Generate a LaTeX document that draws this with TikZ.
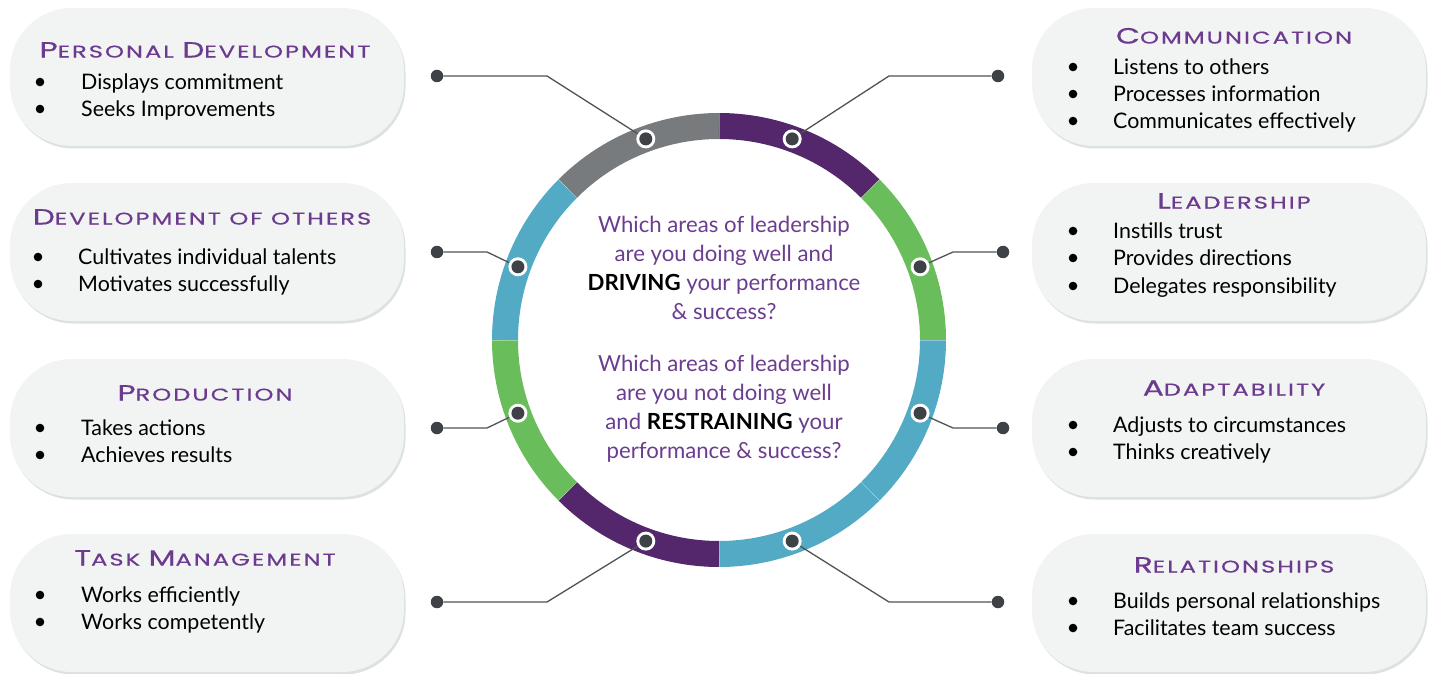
\documentclass[tikz,border=0pt]{standalone}
\usepackage{fontspec}
\usetikzlibrary{calc}
\setmainfont{Lato}
\newfontfamily\titlefont[FakeStretch=1.42, LetterSpace=12, FakeBold=0.6]{Poppins}
\definecolor{ringpurple}{HTML}{54266B}
\definecolor{ringgray}{HTML}{787B7D}
\definecolor{ringgreen}{HTML}{6ABD5B}
\definecolor{ringblue}{HTML}{53AAC4}
\definecolor{headpurple}{HTML}{6C3B8F}
\definecolor{askpurple}{HTML}{6B3D8F}
\definecolor{dotdark}{HTML}{3E4146}
\definecolor{linkgray}{HTML}{505254}
\definecolor{boxfill}{HTML}{F2F3F3}
\definecolor{boxshade}{HTML}{DCE1E3}
% small-caps style heading word: large initial, smaller remaining capitals
\newcommand{\capword}[2]{{\fontsize{22}{22}\selectfont #1}{\fontsize{17}{17}\selectfont #2}}
\newcommand{\smallword}[1]{{\fontsize{17}{17}\selectfont #1}}
\tikzset{
  pill/.style={rounded corners=62pt, minimum width=394pt, minimum height=138pt, inner sep=0pt, fill=boxfill},
  pillshade/.style={pill, fill=boxshade},
  heading/.style={font=\titlefont\fontsize{17}{17}\selectfont, text=headpurple, anchor=mid, inner sep=0pt},
  item/.style={font=\fontsize{21.4}{24}\selectfont, text=black, anchor=mid west, inner sep=0pt},
  ask/.style={font=\fontsize{22.2}{29}\selectfont, text=askpurple, align=center, inner sep=0pt},
  ringdot/.style={circle, minimum size=19pt, inner sep=0pt},
  enddot/.style={circle, fill=dotdark, minimum size=12.5pt, inner sep=0pt},
  link/.style={draw=linkgray, line width=1.3pt},
  seg/.style={line width=26pt}
}
\begin{document}
\begin{tikzpicture}[x=1pt,y=1pt]
\useasboundingbox (0,0) rectangle (1431,673);

% ---------- boxes ----------
\foreach \n/\x/\y in {bl1/207/596, bl2/207/421, bl3/207/245, bl4/207/70,
                      br1/1229/596, br2/1229/421, br3/1229/245, br4/1229/70}{
  \node[pillshade] (\n s) at (\x+1.5,\y-2.5) {};
  \node[pill] (\n) at (\x,\y) {};
}

% ---------- headings ----------
\node[heading] (h1) at (205,618) {\capword{P}{ERSONAL} \capword{D}{EVELOPMENT}};
\node[heading] (h2) at (202,451) {\capword{D}{EVELOPMENT} \smallword{OF} \smallword{OTHERS}};
\node[heading] (h3) at (205,275) {\capword{P}{RODUCTION}};
\node[heading] (h4) at (205,110) {\capword{T}{ASK} \capword{M}{ANAGEMENT}};
\node[heading] (h5) at (1234,632) {\capword{C}{OMMUNICATION}};
\node[heading] (h6) at (1234,467) {\capword{L}{EADERSHIP}};
\node[heading] (h7) at (1234,280) {\capword{A}{DAPTABILITY}};
\node[heading] (h8) at (1234,103) {\capword{R}{ELATIONSHIPS}};

% ---------- bullet items ----------
\foreach \n/\bx/\tx/\y/\t in {
  i1/40/81/591/Displays commitment,
  i2/40/81/564/Seeks Improvements,
  i3/38/78/416/Cultivates individual talents,
  i4/38/78/389/Motivates successfully,
  i5/40/81/245/Takes actions,
  i6/40/81/218/Achieves results,
  i7/40/81/78/Works efficiently,
  i8/40/81/51/Works competently,
  i9/1073/1113/606/Listens to others,
  i10/1073/1113/579/Processes information,
  i11/1073/1113/552/Communicates effectively,
  i12/1073/1113/442/Instills trust,
  i13/1073/1113/415/Provides directions,
  i14/1073/1113/387/Delegates responsibility,
  i15/1073/1113/248/Adjusts to circumstances,
  i16/1073/1113/221/Thinks creatively,
  i17/1073/1113/72/Builds personal relationships,
  i18/1073/1113/45/Facilitates team success}{
  \fill[black] (\bx,\y) circle (4.3);
  \node[item] (\n) at (\tx,\y-5) {\t};
}

% ---------- ring ----------
\coordinate (c) at (719,333);
\foreach \a/\b/\col in {90/135/ringgray, 45/90/ringpurple, 0/45/ringgreen, -45/0/ringblue,
                        -90/-45/ringblue, -135/-90/ringpurple, 180/225/ringgreen, 135/180/ringblue}{
  \draw[seg, \col] (c) ++(\a:214) arc[start angle=\a, end angle=\b, radius=214];
}
\foreach \a in {0,45,90,135,180,225,270,315}{
  \draw[white, opacity=0.35, line width=0.6pt] (c) ++(\a:201) -- ++(\a:26);
}

% ---------- centre questions ----------
\node[ask] (q1) at (724,405) {Which areas of leadership\\ are you doing well and\\ {\color{black}\bfseries DRIVING} your performance\\ \& success?};
\node[ask] (q2) at (724,264) {Which areas of leadership\\ are you not doing well\\ and {\color{black}\bfseries RESTRAINING} your\\ performance \& success?};

% ---------- markers on the ring ----------
\foreach \n/\a in {r1/110, r2/160, r3/200, r4/250, r5/70, r6/20, r7/340, r8/290}{
  \node[ringdot] (\n) at ($(c)+(\a:214)$) {};
  \fill[white] (\n.center) circle (9.5);
  \fill[dotdark] (\n.center) circle (6.5);
}

% ---------- connector ends and bends ----------
\node[enddot] (e1) at (437,597) {};
\node[enddot] (e2) at (437,421) {};
\node[enddot] (e3) at (437,245) {};
\node[enddot] (e4) at (437,71) {};
\node[enddot] (e5) at (998,597) {};
\node[enddot] (e6) at (1003,421) {};
\node[enddot] (e7) at (1003,245) {};
\node[enddot] (e8) at (998,71) {};
\coordinate (k1) at (547,597);
\coordinate (k2) at (487,421);
\coordinate (k3) at (487,245);
\coordinate (k4) at (547,71);
\coordinate (k5) at (889,597);
\coordinate (k6) at (953,421);
\coordinate (k7) at (953,245);
\coordinate (k8) at (889,71);

\foreach \i in {1,...,8}{
  \draw[link] (e\i) -- (k\i) -- (r\i);
}
\end{tikzpicture}
\end{document}
